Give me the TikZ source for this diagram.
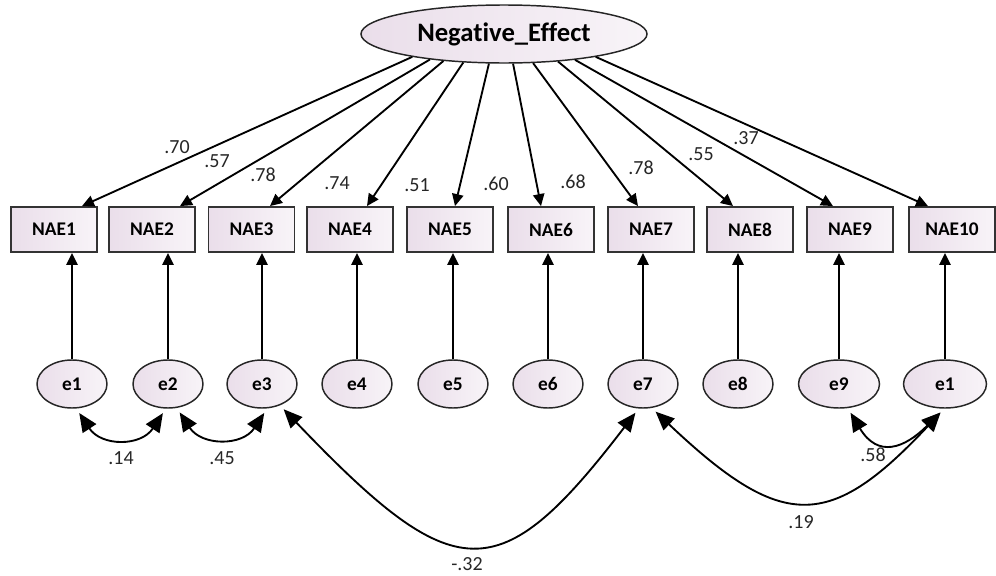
\documentclass[tikz,border=0pt]{standalone}
\usepackage{fontspec}
\setmainfont{Carlito}[Ligatures=NoCommon]
\usetikzlibrary{arrows.meta,calc,shapes.geometric}
\definecolor{lav}{RGB}{234,222,234}
\definecolor{lavl}{RGB}{248,244,248}
\begin{document}
\begin{tikzpicture}[x=0.75pt,y=-0.75pt,
 obs/.style={draw=black!80,line width=1.4pt,left color=lav,right color=lavl,minimum width=64.5pt,minimum height=33.75pt,inner sep=0pt,font=\fontsize{14.5}{16}\selectfont\bfseries},
 err/.style={ellipse,draw=black!85,line width=1.1pt,left color=lav,right color=lavl,minimum width=52.5pt,minimum height=36pt,inner sep=0pt,font=\fontsize{14.5}{16}\selectfont\bfseries},
 lat/.style={ellipse,draw=black!85,line width=1.1pt,left color=lav,right color=lavl,minimum width=214.5pt,minimum height=43.5pt,inner sep=0pt,font=\fontsize{20}{22}\selectfont\bfseries},
 load/.style={-{Triangle[length=9pt,width=8.5pt]},line width=1.4pt},
 cov/.style={{Triangle[length=14pt,width=12pt]}-{Triangle[length=14pt,width=12pt]},line width=1.4pt,shorten <=4pt,shorten >=4pt},
 lbl/.style={font=\fontsize{15}{17}\selectfont,text=black!85,inner sep=0pt}
]
\useasboundingbox (0,0) rectangle (996,575);
\node[lat] (ne) at (504,34) {Negative\_Effect};
\foreach \i/\x in {1/54,2/152,3/251.5,4/350,5/450,6/551,7/651,8/750,9/850,10/952}
  \node[obs] (nae\i) at (\x,229.5) {NAE\i};
\foreach \i/\x in {1/72,2/168,3/262,4/357,5/453,6/548,7/643,8/738}
  \node[err] (e\i) at (\x,384) {e\i};
\node[err,minimum width=60.75pt] (e9) at (839,384) {e9};
\node[err,minimum width=62.25pt] (e10) at (945,384) {e1};
\foreach \i in {1,...,10}
  \draw[load] (e\i) -- (e\i |- nae\i.south);
\foreach \i/\a/\d in {1/-166.4/28,2/-161.8/28,3/-156.3/18.5,4/-145.7/17,5/-117.3/5,6/-73.8/-10,7/-45/-13,8/-27/-17,9/-20.6/-17,10/-14.6/-24}
  \draw[load] (ne.\a) -- ($(nae\i.north)+(\d,0)$);
\node[lbl] (w1) at (177,147) {.70};
\node[lbl] (w2) at (217,161) {.57};
\node[lbl] (w3) at (263,175) {.78};
\node[lbl] (w4) at (337,183) {.74};
\node[lbl] (w5) at (417,185) {.51};
\node[lbl] (w6) at (496,184) {.60};
\node[lbl] (w7) at (573,182) {.68};
\node[lbl] (w8) at (641,168) {.78};
\node[lbl] (w9) at (701,154) {.55};
\node[lbl] (w10) at (746,138) {.37};
\draw[cov] (e1.-80) .. controls +(25,38) and +(-25,38) .. (e2.-95);
\draw[cov] (e2.-70) .. controls +(25,38) and +(-25,38) .. (e3.-78);
\draw[cov] (e3.-50) .. controls +(175,183) and +(-140,183) .. (e7.-100);
\draw[cov] (e7.-70) .. controls +(130,123) and +(-115,123) .. (e10.-92);
\draw[cov] (e9.-70) .. controls +(30,50) and +(-40,40) .. (e10.-92);
\node[lbl] (c1) at (121,458) {.14};
\node[lbl] (c2) at (222,458) {.45};
\node[lbl] (c3) at (467,564) {-.32};
\node[lbl] (c4) at (801,522) {.19};
\node[lbl] (c5) at (873,455) {.58};
\end{tikzpicture}
\end{document}
